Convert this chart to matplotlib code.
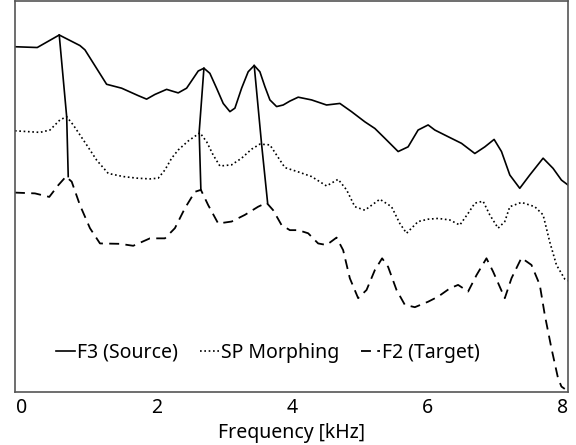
import numpy as np
import matplotlib
matplotlib.use('Agg')
from matplotlib import pyplot as plt

font = {'size': 14, 'family': 'Noto Sans'}
plt.rcParams['font.family'] = ['Noto Sans', 'DejaVu Sans']

# spectral envelopes (level in arbitrary units, 0..100)
f3_freq = [-0.096, 0.233, 0.558, 0.864, 0.938, 1.258, 1.480, 1.725, 1.849, 1.972, 2.145, 2.219,
           2.316, 2.440, 2.538, 2.612, 2.696, 2.784, 2.883, 2.981, 3.080, 3.154, 3.253, 3.350,
           3.439, 3.523, 3.597, 3.671, 3.770, 3.867, 3.966, 4.089, 4.287, 4.508, 4.705, 4.877,
           5.074, 5.222, 5.369, 5.566, 5.713, 5.861, 6.009, 6.108, 6.304, 6.502, 6.699, 6.847,
           6.984, 7.093, 7.216, 7.363, 7.511, 7.708, 7.855, 7.979, 8.087]
f3_level = [88.3, 88.1, 91.3, 88.6, 87.5, 78.7, 77.7, 75.8, 74.9, 76.1, 77.4, 77.0,
            76.5, 77.7, 80.2, 82.1, 82.8, 81.5, 77.7, 73.8, 71.7, 72.6, 77.7, 81.9,
            83.5, 81.9, 78.1, 74.7, 73.0, 73.4, 74.4, 75.4, 74.7, 73.4, 73.8, 71.7,
            69.1, 67.4, 64.9, 61.5, 62.7, 67.0, 68.3, 67.0, 65.3, 63.6, 61.0, 62.7,
            64.6, 61.5, 55.5, 52.1, 55.5, 59.8, 57.2, 54.2, 52.8]

morph_freq = [-0.096, 0.273, 0.421, 0.569, 0.668, 0.765, 0.963, 1.111, 1.282, 1.504, 1.702, 1.898,
              2.021, 2.120, 2.219, 2.316, 2.464, 2.637, 2.736, 2.833, 2.932, 3.105, 3.253, 3.400,
              3.523, 3.671, 3.770, 3.892, 4.089, 4.287, 4.508, 4.679, 4.804, 4.926, 5.074, 5.295,
              5.468, 5.591, 5.690, 5.861, 6.009, 6.157, 6.329, 6.477, 6.600, 6.699, 6.821, 6.920,
              7.043, 7.142, 7.216, 7.388, 7.585, 7.708, 7.806, 7.905, 8.028, 8.087]
morph_level = [66.8, 66.4, 67.0, 69.6, 70.4, 68.3, 63.2, 59.3, 55.9, 55.1, 54.7, 54.5,
               54.7, 56.8, 59.8, 61.9, 64.2, 66.3, 64.0, 60.6, 57.8, 58.1, 59.8, 62.1,
               63.4, 63.2, 60.6, 57.4, 56.3, 55.1, 52.7, 54.4, 51.7, 47.4, 46.5, 49.3,
               47.4, 43.1, 40.6, 43.6, 44.2, 44.4, 44.0, 42.7, 45.7, 48.3, 48.8, 45.3,
               41.9, 43.6, 47.4, 48.5, 47.4, 45.3, 38.4, 32.5, 28.9, 28.4]

f2_freq = [-0.096, 0.199, 0.411, 0.544, 0.657, 0.742, 0.864, 1.012, 1.160, 1.455, 1.651, 1.898,
           2.120, 2.267, 2.415, 2.563, 2.651, 2.759, 2.907, 3.105, 3.301, 3.498, 3.622, 3.719,
           3.843, 3.966, 4.089, 4.236, 4.384, 4.508, 4.656, 4.753, 4.852, 4.975, 5.099, 5.222,
           5.329, 5.418, 5.542, 5.665, 5.813, 6.009, 6.157, 6.329, 6.452, 6.600, 6.724, 6.871,
           6.969, 7.142, 7.241, 7.388, 7.536, 7.659, 7.733, 7.831, 7.929, 7.979, 8.028]
f2_level = [51.0, 50.8, 49.9, 52.9, 55.1, 53.8, 47.8, 41.9, 38.0, 37.9, 37.4, 39.3,
            39.3, 41.9, 47.0, 51.2, 51.7, 47.8, 43.1, 43.6, 45.3, 47.4, 48.4, 46.5,
            42.7, 41.4, 41.4, 40.6, 38.0, 37.6, 39.5, 36.3, 29.1, 24.0, 26.1, 31.2,
            34.2, 32.0, 26.1, 22.3, 21.7, 23.1, 24.4, 26.5, 27.4, 25.7, 29.9, 34.2,
            30.8, 24.0, 29.1, 34.3, 32.5, 27.4, 19.7, 11.2, 3.5, 1.4, 0.8]

# formant peak tracks: source peak -> morphed peak -> target peak
peak_freq = [[0.558, 0.668, 0.691], [2.696, 2.626, 2.651], [3.439, 3.548, 3.637]]
peak_level = [[91.3, 70.4, 55.1], [82.8, 66.5, 51.7], [83.5, 63.4, 48.4]]

xticks = [0, 2, 4, 6, 8]

fig = plt.figure(figsize=(5.76, 4.45), dpi=100)
ax = fig.add_axes([0.026, 0.119, 0.9606, 0.8788])

art1, = ax.plot(f3_freq, f3_level, color='black', lw=1.2, ls='-', label='F3 (Source)')
art2, = ax.plot(morph_freq, morph_level, color='black', lw=1.2, ls=(0, (1, 1.6)), label='SP Morphing')
art3, = ax.plot(f2_freq, f2_level, color='black', lw=1.3, ls=(0, (5.5, 3.5)), label='F2 (Target)')
for fx, lv in zip(peak_freq, peak_level):
	ax.plot(fx, lv, color='black', lw=1.2)

ax.set_xlim([-0.096, 8.08])
ax.set_ylim([0, 100])
ax.set_xticks(xticks)
ax.set_yticks([])
ax.tick_params(axis='both', which='both', length=0, pad=4, labelsize=14)
ax.set_xlabel("Frequency [kHz]", fontdict=font, labelpad=4)

for sp in ax.spines.values():
	sp.set_color('#555555')
	sp.set_linewidth(1.2)

ax.legend(handles=[art1, art2, art3], loc='center', bbox_to_anchor=(0.457, 0.1), ncol=3,
	frameon=False, handlelength=1.0, handletextpad=0.1, columnspacing=1.1, prop={'size': 14, 'family': 'Noto Sans'})

plt.savefig("out.png", dpi=100)
